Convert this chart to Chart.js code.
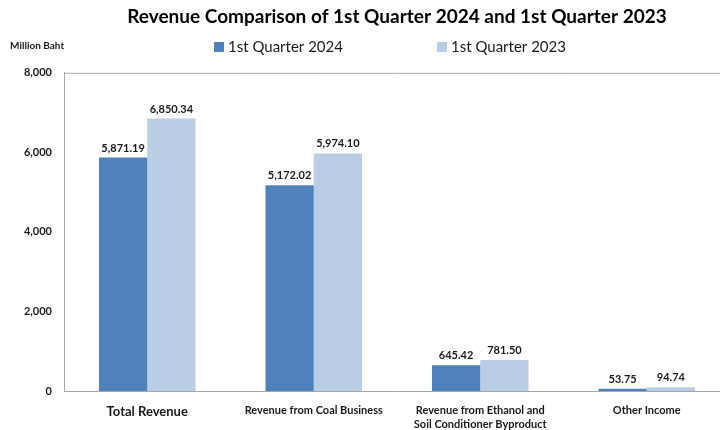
<!DOCTYPE html>
<html lang="en">
<head>
    <meta charset="UTF-8">
    <title>Revenue Comparison</title>
    <script src="https://cdn.jsdelivr.net/npm/chart.js"></script>
    <style>
        body { margin: 0; background: #ffffff; overflow: hidden; }
        #wrap { width: 720px; height: 430px; overflow: hidden; }
    </style>
</head>
<body>
    <!-- plot area runs slightly past the right edge in the original, so the canvas is a bit wider than the view -->
    <div id="wrap"><canvas id="revChart" width="730" height="430"></canvas></div>
    <script>
        const categories = ["Total Revenue", "Revenue from Coal Business", ["Revenue from Ethanol and", "Soil Conditioner Byproduct"], "Other Income"];
        const q1_2024 = [5871.19, 5172.02, 645.42, 53.75];
        const q1_2023 = [6850.34, 5974.10, 781.50, 94.74];
        const yTicks = [0, 2000, 4000, 6000, 8000];

        const FONT = "Lato, 'Open Sans', sans-serif";

        // value labels, plot frame, unit label and a wide-spaced legend
        const extras = {
            id: "extras",
            afterDatasetsDraw(chart) {
                const ctx = chart.ctx;
                const a = chart.chartArea;
                ctx.save();
                ctx.strokeStyle = "#a6a6a6";
                ctx.lineWidth = 1;
                ctx.beginPath();
                ctx.moveTo(a.left + 0.5, a.bottom);
                ctx.lineTo(a.left + 0.5, a.top + 0.5);
                ctx.lineTo(a.right, a.top + 0.5);
                ctx.stroke();

                ctx.font = "bold 11px " + FONT;
                ctx.fillStyle = "#1a1a1a";
                ctx.textAlign = "center";
                ctx.textBaseline = "bottom";
                chart.data.datasets.forEach((ds, i) => {
                    chart.getDatasetMeta(i).data.forEach((bar, j) => {
                        const txt = ds.data[j].toLocaleString("en-US", { minimumFractionDigits: 2, maximumFractionDigits: 2 });
                        ctx.fillText(txt, bar.x, bar.y - 4);
                    });
                });

                ctx.font = "bold 10px " + FONT;
                ctx.textAlign = "left";
                ctx.textBaseline = "middle";
                ctx.fillText("Million Baht", 10, 46);

                // legend
                const legendX = [214, 437];
                ctx.font = "15px " + FONT;
                chart.data.datasets.forEach((ds, i) => {
                    ctx.fillStyle = ds.backgroundColor;
                    ctx.fillRect(legendX[i], 42, 10, 10);
                    ctx.fillStyle = "#1a1a1a";
                    ctx.fillText(ds.label, legendX[i] + 14, 47);
                });
                ctx.restore();
            }
        };

        new Chart(document.getElementById("revChart"), {
            type: "bar",
            data: {
                labels: categories,
                datasets: [
                    { label: "1st Quarter 2024", data: q1_2024, backgroundColor: "#4f81bd" },
                    { label: "1st Quarter 2023", data: q1_2023, backgroundColor: "#b9cde5" }
                ]
            },
            options: {
                responsive: false,
                animation: false,
                layout: { padding: { left: 0, right: 0, top: 0, bottom: 0 } },
                datasets: { bar: { categoryPercentage: 0.58, barPercentage: 1.0 } },
                plugins: {
                    title: {
                        display: true,
                        text: "Revenue Comparison of 1st Quarter 2024 and 1st Quarter 2023",
                        fullSize: false,
                        color: "#000000",
                        font: { family: FONT, size: 19, weight: "bold" },
                        padding: { top: 5, bottom: 45 }
                    },
                    legend: { display: false },
                    tooltip: { enabled: false }
                },
                scales: {
                    x: {
                        grid: { display: false },
                        border: { color: "#a6a6a6" },
                        afterFit: (s) => { s.height = 39; },
                        ticks: {
                            color: "#1a1a1a",
                            maxRotation: 0,
                            autoSkip: false,
                            padding: 5,
                            font: (c) => ({ family: FONT, weight: "bold", size: c.index === 0 ? 13 : 11, lineHeight: 1.25 })
                        }
                    },
                    y: {
                        min: 0,
                        max: 8000,
                        afterBuildTicks: (s) => { s.ticks = yTicks.map(v => ({ value: v })); },
                        grid: { display: false, drawTicks: false },
                        border: { color: "#a6a6a6" },
                        afterFit: (s) => { s.width = 64; },
                        ticks: {
                            color: "#1a1a1a",
                            padding: 12,
                            font: { family: FONT, size: 11, weight: "bold" },
                            callback: (v) => v.toLocaleString("en-US")
                        }
                    }
                }
            },
            plugins: [extras]
        });
    </script>
</body>
</html>
